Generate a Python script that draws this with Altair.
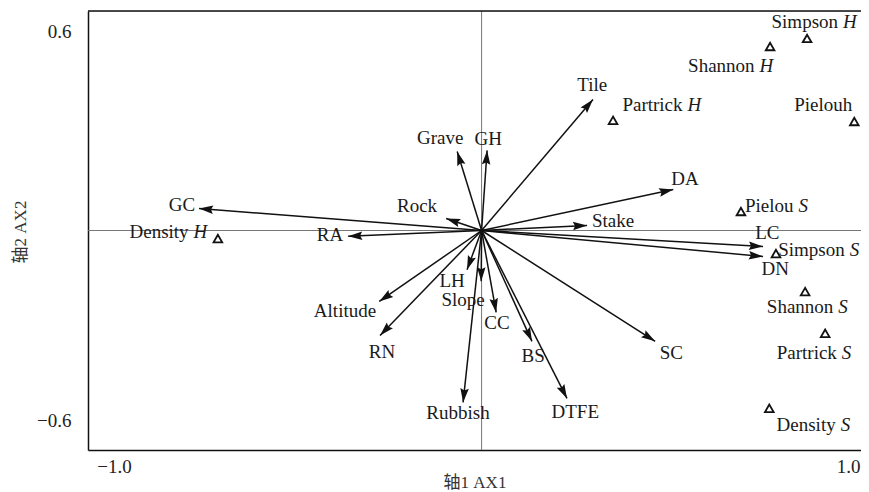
import altair as alt
import pandas as pd
import numpy as np

# ---------------- data ----------------
env_names = ["GC", "RA", "Rock", "Grave", "GH", "Tile", "DA", "Stake", "LC", "DN",
             "SC", "DTFE", "BS", "CC", "Slope", "LH", "Rubbish", "Altitude", "RN"]
env_x = [-0.718, -0.339, -0.090, -0.062, 0.014, 0.283, 0.487, 0.268, 0.715, 0.715,
         0.441, 0.217, 0.128, 0.037, -0.001, -0.037, -0.047, -0.260, -0.258]
env_y = [0.060, -0.016, 0.033, 0.216, 0.219, 0.358, 0.112, 0.014, -0.044, -0.071,
         -0.303, -0.459, -0.303, -0.224, -0.139, -0.107, -0.470, -0.194, -0.287]
env_label_x = [-0.761, -0.385, -0.164, -0.105, 0.017, 0.281, 0.517, 0.334, 0.726, 0.746,
               0.482, 0.238, 0.131, 0.039, -0.047, -0.075, -0.060, -0.347, -0.253]
env_label_y = [0.071, -0.011, 0.068, 0.254, 0.251, 0.399, 0.142, 0.027, -0.008, -0.104,
               -0.336, -0.497, -0.342, -0.254, -0.191, -0.137, -0.500, -0.219, -0.331]

sp_names = ["Simpson", "Shannon", "Partrick", "Pielouh", "Pielou",
            "Simpson", "Shannon", "Partrick", "Density", "Density"]
sp_suffix = ["H", "H", "H", "", "S", "S", "S", "S", "S", "H"]
sp_x = [0.827, 0.733, 0.334, 0.947, 0.659, 0.748, 0.822, 0.873, 0.731, -0.670]
sp_y = [0.525, 0.503, 0.301, 0.298, 0.052, -0.063, -0.167, -0.281, -0.486, -0.022]
sp_label_x = [0.912, 0.700, 0.517, 0.948, 0.799, 0.929, 0.900, 0.909, 0.906, -0.738]
sp_label_y = [0.571, 0.451, 0.344, 0.344, 0.068, -0.054, -0.208, -0.336, -0.533, -0.003]

x_domain = [-1.0, 0.964]
y_domain = [-0.6, 0.6]
x_tick_labels = ["−1.0", "1.0"]
y_tick_labels = ["−0.6", "0.6"]
x_title = "轴1 AX1"
y_title = "轴2 AX2"

# ---------------- layout ----------------
W, H = 773, 439
FONT = "Liberation Serif"
TITLE_FONT = "Liberation Serif, Noto Sans CJK SC"
INK = "#111111"

sx = W / (x_domain[1] - x_domain[0])
sy = H / (y_domain[1] - y_domain[0])

env = pd.DataFrame({"name": env_names, "x": env_x, "y": env_y,
                    "lx": env_label_x, "ly": env_label_y})
env["ox"] = 0.0
env["oy"] = 0.0
env["ang"] = (np.degrees(np.arctan2(env["x"] * sx, env["y"] * sy)) + 360.0) % 360.0

sp = pd.DataFrame({"word": sp_names, "suffix": sp_suffix, "x": sp_x, "y": sp_y,
                   "lx": sp_label_x, "ly": sp_label_y})

zero_df = pd.DataFrame({"zero": [0.0]})
top_df = pd.DataFrame({"top": [y_domain[1]]})

xscale = alt.Scale(domain=x_domain, nice=False, zero=False)
yscale = alt.Scale(domain=y_domain, nice=False, zero=False)

xaxis = alt.Axis(
    values=x_domain,
    labelExpr=f"datum.value < 0 ? '{x_tick_labels[0]}' : '{x_tick_labels[1]}'",
    ticks=False, tickSize=0, grid=False,
    domainColor=INK, domainWidth=1.5,
    labelFont=FONT, labelFontSize=19, labelColor="#222222", labelPadding=7,
    labelAlign="center",
    labelOffset=alt.condition("datum.value < 0", alt.value(26), alt.value(-13)),
    title=x_title, titleFont=TITLE_FONT, titleFontSize=17, titleFontWeight="normal",
    titleColor="#333333", titleY=32, titleBaseline="middle",
)
yaxis = alt.Axis(
    values=y_domain,
    labelExpr=f"datum.value < 0 ? '{y_tick_labels[0]}' : '{y_tick_labels[1]}'",
    ticks=False, tickSize=0, grid=False,
    domainColor=INK, domainWidth=1.5,
    labelFont=FONT, labelFontSize=19, labelColor="#222222", labelPadding=17,
    labelBaseline="middle",
    labelOffset=alt.condition("datum.value > 0", alt.value(20), alt.value(-30)),
    title=y_title, titleFont=TITLE_FONT, titleFontSize=17, titleFontWeight="normal",
    titleColor="#333333", titleX=-68, titleY=H / 2 + 1, titleAngle=270,
    titleBaseline="middle", titleAlign="center",
)


def X(f):
    return alt.X(f, type="quantitative", scale=xscale, axis=xaxis)


def Y(f):
    return alt.Y(f, type="quantitative", scale=yscale, axis=yaxis)


vline = alt.Chart(zero_df).mark_rule(color="#777777", strokeWidth=1).encode(x=X("zero"))
hline = alt.Chart(zero_df).mark_rule(color="#777777", strokeWidth=1).encode(y=Y("zero"))
topline = alt.Chart(top_df).mark_rule(color=INK, strokeWidth=1.5).encode(y=Y("top"))

arrow_lines = alt.Chart(env).mark_rule(color=INK, strokeWidth=1.5).encode(
    x=X("ox"), y=Y("oy"), x2="x:Q", y2="y:Q")

arrow_heads = alt.Chart(env).mark_point(
    shape="M0,0L0.3,1L0,0.85L-0.3,1Z", filled=True, color=INK, opacity=1, size=800,
).encode(x=X("x"), y=Y("y"), angle=alt.Angle("ang:Q", scale=None))

species_pts = alt.Chart(sp).mark_point(
    shape="triangle-up", filled=False, color=INK, strokeWidth=1.8, size=75, opacity=1,
).encode(x=X("x"), y=Y("y"))

env_text = alt.Chart(env).mark_text(
    font=FONT, fontSize=19, color="#1a1a1a", align="center", baseline="middle",
).encode(x=X("lx"), y=Y("ly"), text="name:N")

sp_word = alt.Chart(sp).mark_text(
    font=FONT, fontSize=19, color="#1a1a1a", align="right", baseline="middle", dx=-2.5,
).encode(x=X("lx"), y=Y("ly"), text="word:N")

sp_suf = alt.Chart(sp).mark_text(
    font=FONT, fontSize=19, color="#1a1a1a", align="left", baseline="middle", dx=2.5,
    fontStyle="italic",
).encode(x=X("lx"), y=Y("ly"), text="suffix:N")

chart = alt.layer(
    vline, hline, topline, arrow_lines, arrow_heads, species_pts, env_text, sp_word, sp_suf
).properties(
    width=W, height=H,
    autosize=alt.AutoSizeParams(type="none"),
    padding={"left": 80, "top": 3, "right": 0, "bottom": 42},
).configure_view(stroke=None).configure(background="white")

chart.save("out.html", embed_options={"renderer": "svg", "actions": False})
